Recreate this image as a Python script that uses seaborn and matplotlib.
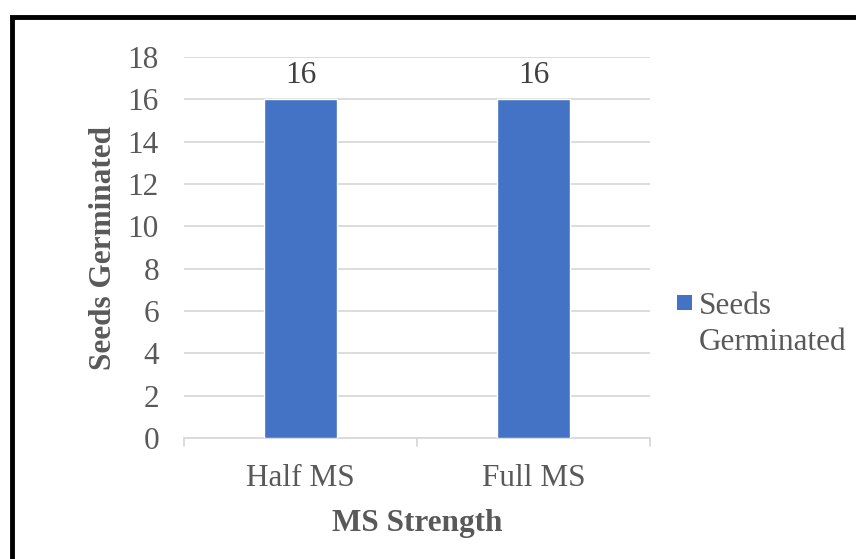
import matplotlib
matplotlib.use("Agg")
import matplotlib.pyplot as plt
import matplotlib.patches as mpatches
import seaborn as sns
import pandas as pd

categories = ["Half MS", "Full MS"]
seeds_germinated = [16, 16]
y_ticks = [0, 2, 4, 6, 8, 10, 12, 14, 16, 18]
legend_lines = ["Seeds", "Germinated"]

sns.set_theme(style="white")
plt.rcParams["font.family"] = ["Liberation Serif", "DejaVu Serif"]

df = pd.DataFrame({"MS Strength": categories, "Seeds Germinated": seeds_germinated})

W, H = 856, 559
fig = plt.figure(figsize=(W / 100, H / 100), dpi=100)
ax = fig.add_axes([184 / W, 1 - 438 / H, (650 - 184) / W, (438 - 57) / H])

text_color = "#595959"
grid_color = "#D9D9D9"
bar_color = "#4472C4"
fs = 22.5

sns.barplot(data=df, x="MS Strength", y="Seeds Germinated", color=bar_color,
            width=0.313, saturation=1, ax=ax, zorder=3)

ax.set_ylim(0, 18)
ax.set_xlim(-0.5, 1.5)
ax.set_yticks(y_ticks)
ax.set_yticklabels([str(t) for t in y_ticks])
ax.yaxis.grid(True, color=grid_color, linewidth=1.3, zorder=0)
ax.tick_params(axis="y", length=0, labelsize=fs, labelcolor=text_color, pad=18)
ax.tick_params(axis="x", length=0, labelsize=fs, labelcolor=text_color, pad=18.5)

for side in ["top", "right", "left"]:
    ax.spines[side].set_visible(False)
ax.spines["bottom"].set_color(grid_color)
ax.spines["bottom"].set_linewidth(1.3)

# category separator ticks below the baseline
for xb in [-0.5, 0.5, 1.5]:
    ax.plot([xb, xb], [0, -0.38], color=grid_color, linewidth=1.3,
            clip_on=False, zorder=2)

for i, v in enumerate(seeds_germinated):
    ax.text(i, v + 0.45, f"{v}", ha="center", va="bottom",
            fontsize=fs, color="#404040")

ax.set_xlabel("MS Strength", fontsize=fs, fontweight="bold", color=text_color, labelpad=11.5)
ax.set_ylabel("Seeds Germinated", fontsize=fs, fontweight="bold", color=text_color, labelpad=7)

# legend: colour swatch plus two-line label
fig.patches.append(mpatches.Rectangle((677 / W, 1 - 310 / H), 15 / W, 15 / H,
                                      transform=fig.transFigure,
                                      facecolor=bar_color, edgecolor="none"))
fig.text(699 / W, 1 - 306 / H, legend_lines[0], fontsize=fs, color=text_color,
         ha="left", va="center")
fig.text(699 / W, 1 - 343 / H, legend_lines[1], fontsize=fs, color=text_color,
         ha="left", va="center")

# outer frame
fig.patches.append(mpatches.Rectangle((12 / W, -0.1), 1.2, 1 - 17 / H + 0.1,
                                      transform=fig.transFigure, fill=False,
                                      edgecolor="black", linewidth=3.5))

fig.savefig("out.png", dpi=100)
